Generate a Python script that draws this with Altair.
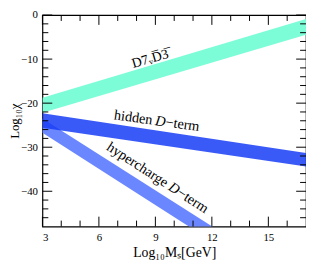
import altair as alt
import pandas as pd

# ---------------- data ----------------
x_range = [3, 17]
y_range = [-48, 0]

d7_x = [3, 17]
d7_upper = [-18.8, -0.9]
d7_lower = [-22.2, -4.5]

hidden_x = [3, 17]
hidden_upper = [-22.3, -31.3]
hidden_lower = [-25.6, -34.4]

hyper_x = [3, 12.5]
hyper_upper = [-23.5, -49.3]
hyper_lower = [-26.7, -52.7]

x_major = [3, 6, 9, 12, 15]
x_minor = [4, 5, 7, 8, 10, 11, 13, 14, 16]
y_major = [0, -10, -20, -30, -40]
y_minor = [-2, -4, -6, -8, -12, -14, -16, -18, -22, -24, -26, -28,
           -32, -34, -36, -38, -42, -44, -46]

# label anchor positions (data units)
d7_label = {"x": 8.73, "y": -10.0, "text": "D7ᵥD̅3̅"}
hidden_label = {"x": 9.05, "y": -24.1, "parts": ["hidden", "D", "−term"]}
hyper_label = {"x": 9.1, "y": -37.0, "parts": ["hypercharge", "D", "−term"]}

# ---------------- styling ----------------
W, H = 268, 215
FONT = "Liberation Serif"
C_D7 = "#7dfcd8"
C_HID = "#173df6"
C_HYP = "#6b87ff"

xs = alt.Scale(domain=x_range, nice=False, zero=False)
ys = alt.Scale(domain=y_range, nice=False, zero=False)

xaxis = alt.Axis(values=x_major, title="Log₁₀Mₛ[GeV]", format="d",
                 ticks=False, domain=False, grid=False,
                 labelPadding=5, titlePadding=4,
                 labelFontSize=11, titleFontSize=14)
yaxis = alt.Axis(values=y_major, title="Log₁₀χ", format="d",
                 ticks=False, domain=False, grid=False,
                 labelPadding=5, labelFontSize=11, titleFontSize=13,
                 titleX=-28, titleY=H / 2, titleBaseline="middle",
                 titleAngle=270)


def band(xv, up, lo, color, opacity=1.0):
    df = pd.DataFrame({"x": xv, "up": up, "lo": lo})
    return alt.Chart(df).mark_area(color=color, opacity=opacity, clip=True).encode(
        x=alt.X("x:Q", scale=xs, axis=xaxis),
        y=alt.Y("up:Q", scale=ys, axis=yaxis),
        y2="lo:Q",
    )


def xticks(vals, length, top):
    df = pd.DataFrame({"v": vals})
    y0 = 0 if top else H
    y1 = length if top else H - length
    return alt.Chart(df).mark_rule(color="black", strokeWidth=1).encode(
        x=alt.X("v:Q", scale=xs, axis=xaxis),
        y=alt.value(y0), y2=alt.value(y1),
    )


def yticks(vals, length, right):
    df = pd.DataFrame({"v": vals})
    x0 = W if right else 0
    x1 = W - length if right else length
    return alt.Chart(df).mark_rule(color="black", strokeWidth=1).encode(
        y=alt.Y("v:Q", scale=ys, axis=yaxis),
        x=alt.value(x0), x2=alt.value(x1),
    )


def label(xv, yv, txt, angle, align="center", dx=0, italic=False, size=14.5):
    df = pd.DataFrame({"x": [xv], "y": [yv], "t": [txt]})
    return alt.Chart(df).mark_text(
        font=FONT, fontSize=size, color="black", angle=angle, align=align,
        baseline="middle", dx=dx, fontStyle="italic" if italic else "normal",
    ).encode(
        x=alt.X("x:Q", scale=xs, axis=xaxis),
        y=alt.Y("y:Q", scale=ys, axis=yaxis),
        text="t:N",
    )


layers = [
    band(d7_x, d7_upper, d7_lower, C_D7),
    band(hyper_x, hyper_upper, hyper_lower, C_HYP),
    band(hidden_x, hidden_upper, hidden_lower, C_HID, 0.85),
    xticks(x_major, 10, False), xticks(x_minor, 6, False),
    xticks(x_major, 10, True), xticks(x_minor, 6, True),
    yticks(y_major, 10, False), yticks(y_minor, 6, False),
    yticks(y_major, 10, True), yticks(y_minor, 6, True),
    label(d7_label["x"], d7_label["y"], d7_label["text"], 344, size=14),
    label(hidden_label["x"], hidden_label["y"], hidden_label["parts"][0], 8, "right", -4),
    label(hidden_label["x"], hidden_label["y"], hidden_label["parts"][1], 8, "left", -1, True),
    label(hidden_label["x"], hidden_label["y"], hidden_label["parts"][2], 8, "left", 9.5),
    label(hyper_label["x"], hyper_label["y"], hyper_label["parts"][0], 33, "right", 11.5),
    label(hyper_label["x"], hyper_label["y"], hyper_label["parts"][1], 33, "left", 15, True),
    label(hyper_label["x"], hyper_label["y"], hyper_label["parts"][2], 33, "left", 25.5),
]

chart = alt.layer(*layers).properties(
    width=W, height=H,
    autosize=alt.AutoSizeParams(type="none"),
    padding={"left": 35, "top": 5, "right": 0, "bottom": 38},
).configure_view(
    stroke="black", strokeWidth=1.2,
).configure_axis(
    labelFont=FONT, titleFont=FONT, labelColor="black", titleColor="black",
    titleFontWeight="normal",
)

chart.save("out.html", embed_options={"renderer": "svg", "actions": False})
